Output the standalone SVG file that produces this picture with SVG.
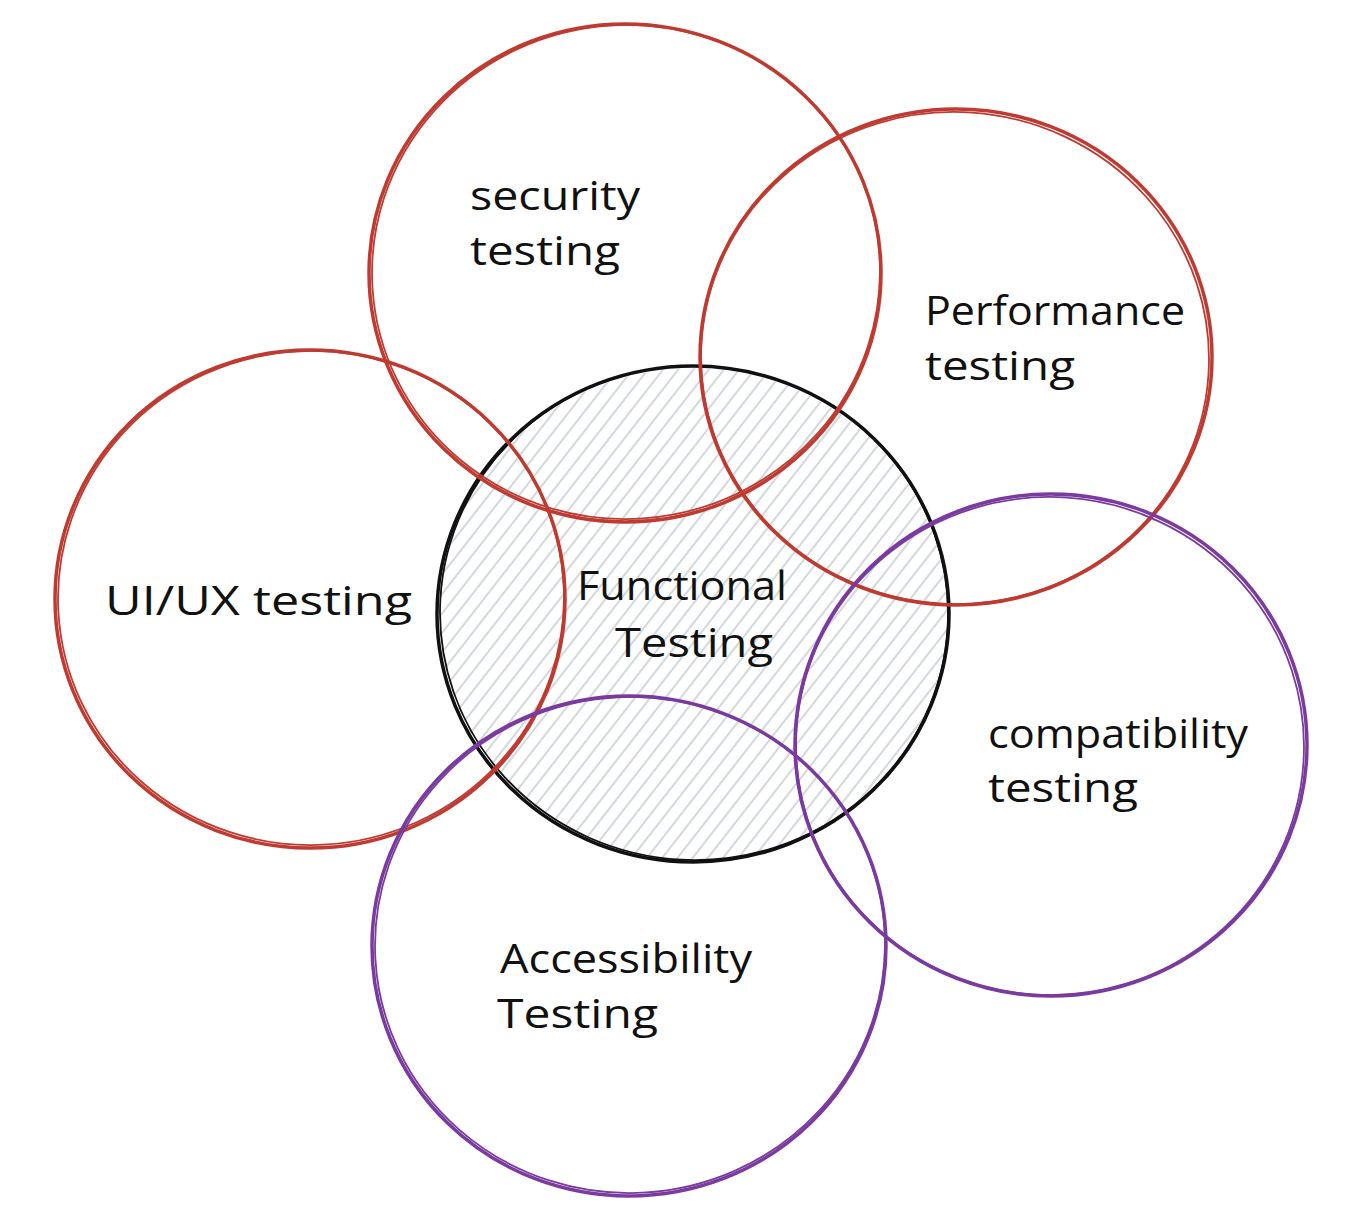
<svg xmlns="http://www.w3.org/2000/svg" width="1358" height="1212" viewBox="0 0 1358 1212">
<style>
.lbl{font-family:"Open Sans","Liberation Sans",sans-serif;font-size:40px;fill:#111;}
.red{fill:none;stroke:#bf3a30;stroke-width:3.5;}
.red2{fill:none;stroke:#bf3a30;stroke-width:1.8;}
.pur{fill:none;stroke:#7b3a9f;stroke-width:3.5;}
.pur2{fill:none;stroke:#7b3a9f;stroke-width:1.8;}
.blk{fill:none;stroke:#111;stroke-width:3.5;}
.blk2{fill:none;stroke:#111;stroke-width:1.8;}
</style>
<defs>
<pattern id="hatch" width="40" height="12" patternUnits="userSpaceOnUse" patternTransform="rotate(-52)">
<line x1="0" y1="6" x2="40" y2="6" stroke="#c4cbd2" stroke-width="1.6"/>
</pattern>
</defs>
<rect width="1358" height="1212" fill="#fff"/>
<g id="functional">
<ellipse cx="693" cy="614" rx="254" ry="246" fill="url(#hatch)"/>
<ellipse class="blk" cx="693" cy="614" rx="256" ry="248"/>
<ellipse class="blk2" cx="694" cy="613" rx="254" ry="247" transform="rotate(3 694 613)"/>
<text class="lbl" x="577" y="600" textLength="210" lengthAdjust="spacingAndGlyphs">Functional</text>
<text class="lbl" x="615" y="657" textLength="158" lengthAdjust="spacingAndGlyphs">Testing</text>
</g>
<g id="security">
<ellipse class="red" cx="625" cy="273" rx="256" ry="249"/>
<ellipse class="red2" cx="626" cy="272" rx="254" ry="247" transform="rotate(-4 626 272)"/>
<text class="lbl" x="470" y="210" textLength="170" lengthAdjust="spacingAndGlyphs">security</text>
<text class="lbl" x="470" y="265" textLength="150" lengthAdjust="spacingAndGlyphs">testing</text>
</g>
<g id="performance">
<ellipse class="red" cx="956" cy="357" rx="256" ry="248"/>
<ellipse class="red2" cx="955" cy="358" rx="254" ry="246" transform="rotate(4 955 358)"/>
<text class="lbl" x="925" y="325" textLength="260" lengthAdjust="spacingAndGlyphs">Performance</text>
<text class="lbl" x="925" y="380" textLength="150" lengthAdjust="spacingAndGlyphs">testing</text>
</g>
<g id="uiux">
<ellipse class="red" cx="310" cy="599" rx="255" ry="249"/>
<ellipse class="red2" cx="311" cy="598" rx="253" ry="247" transform="rotate(-3 311 598)"/>
<text class="lbl" x="105" y="615" textLength="307" lengthAdjust="spacingAndGlyphs">UI/UX testing</text>
</g>
<g id="compatibility">
<ellipse class="pur" cx="1051" cy="745" rx="256" ry="251"/>
<ellipse class="pur2" cx="1050" cy="746" rx="254" ry="249" transform="rotate(4 1050 746)"/>
<text class="lbl" x="988" y="748" textLength="260" lengthAdjust="spacingAndGlyphs">compatibility</text>
<text class="lbl" x="988" y="802" textLength="150" lengthAdjust="spacingAndGlyphs">testing</text>
</g>
<g id="accessibility">
<ellipse class="pur" cx="629" cy="946" rx="257" ry="250"/>
<ellipse class="pur2" cx="630" cy="945" rx="255" ry="248" transform="rotate(-3 630 945)"/>
<text class="lbl" x="500" y="973" textLength="252" lengthAdjust="spacingAndGlyphs">Accessibility</text>
<text class="lbl" x="497" y="1028" textLength="161" lengthAdjust="spacingAndGlyphs">Testing</text>
</g>
<g id="connectors"></g>
</svg>
